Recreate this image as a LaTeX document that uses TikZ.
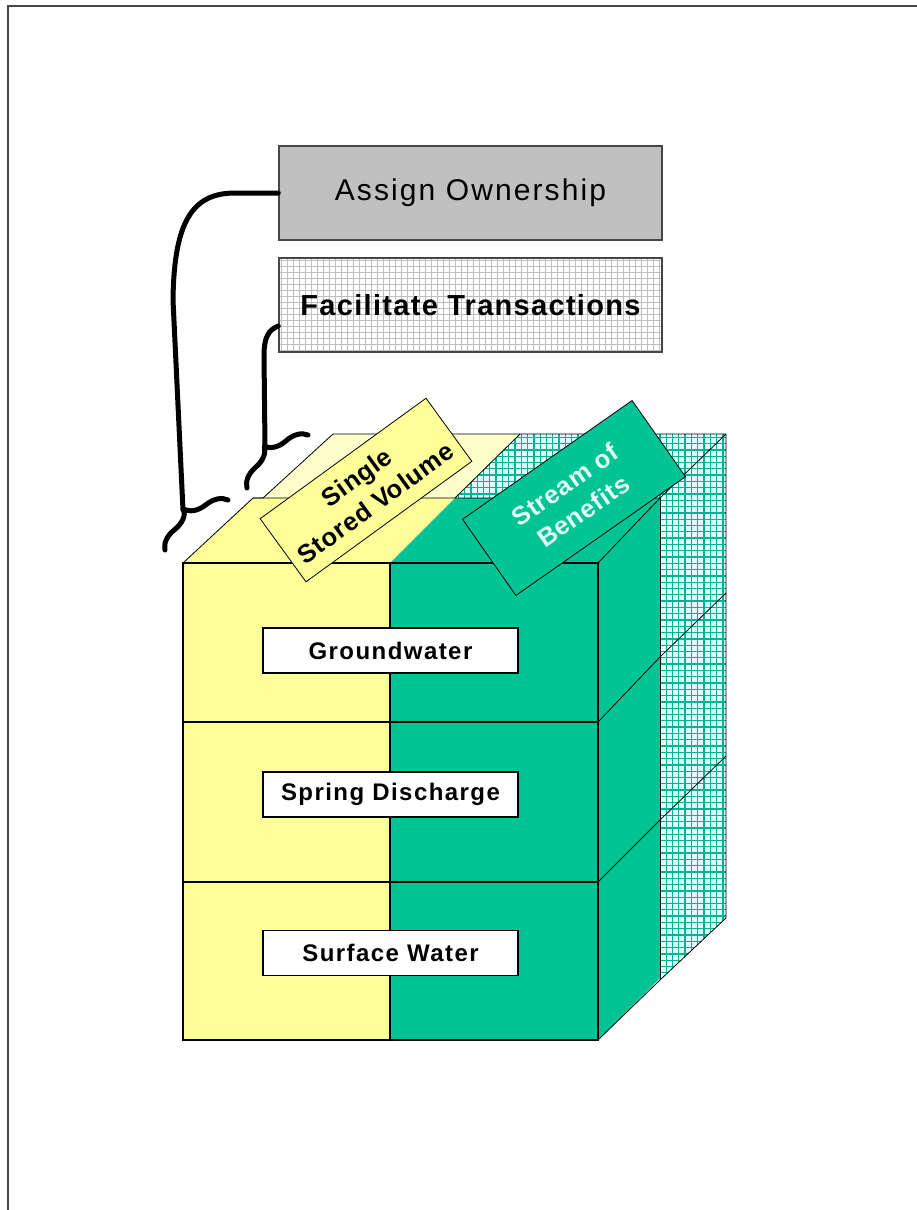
\documentclass[tikz,border=0pt]{standalone}
\usepackage{fontspec}
\setmainfont{Liberation Sans}
\newfontfamily\labelfont[LetterSpace=6]{Liberation Sans}
\newfontfamily\tagfont[LetterSpace=3]{Liberation Sans}
\newfontfamily\titlefont[LetterSpace=7]{Liberation Sans}
\newfontfamily\headfont[LetterSpace=4.5]{Liberation Sans}
\usetikzlibrary{calc,decorations.pathreplacing}

\definecolor{lemon}{RGB}{255,255,153}
\definecolor{paleLemon}{RGB}{255,255,204}
\definecolor{seaGreen}{RGB}{0,196,148}
\definecolor{hatchBack}{RGB}{222,255,255}
\definecolor{hatchLine}{RGB}{0,178,148}
\definecolor{mint}{RGB}{225,255,248}
\definecolor{boxGray}{RGB}{192,192,192}
\definecolor{gridGray}{RGB}{190,190,190}
\definecolor{frameGray}{RGB}{70,70,70}

\begin{document}
\begin{tikzpicture}[x=1pt,y=-1pt,
  thinedge/.style={draw=black,line width=0.8pt},
  divider/.style={draw=black,line width=2.6pt},
  headbox/.style={draw=frameGray,line width=1.4pt,minimum width=383pt,minimum height=94pt},
  layerbox/.style={draw=black,fill=white,line width=1.2pt,minimum width=255pt,minimum height=45pt,
    font=\labelfont\fontsize{24}{26}\selectfont\bfseries},
  tag/.style={draw=black,line width=0.8pt,align=center,inner sep=2pt,
    font=\tagfont\fontsize{25.5}{29}\selectfont\bfseries},
  connector/.style={draw=black,line width=5pt,line cap=round,line join=round},
  bracket/.style={connector,decorate,decoration={brace,amplitude=20pt}}]
\useasboundingbox (0,0) rectangle (917,1210);

% page frame
\draw[frameGray,line width=2pt] (8,1210) -- (8,6) -- (917,6);

% ---- rear slab ----
\fill[paleLemon] (263,498) -- (455,498) -- (520,434) -- (333,434) -- cycle;
\begin{scope}
  \clip (455,498) -- (520,434) -- (726,434) -- (726,918) -- (660,980) -- (660,498) -- cycle;
  \fill[hatchBack] (450,430) rectangle (730,985);
  \foreach \gx in {452,458.3,...,730} \draw[hatchLine,line width=1.3pt] (\gx,430) -- (\gx,985);
  \foreach \gy in {431,437.3,...,985} \draw[hatchLine,line width=1.3pt] (450,\gy) -- (730,\gy);
\end{scope}

% ---- front slab ----
\fill[lemon] (183,563) -- (390,563) -- (455,498) -- (253,498) -- cycle;
\fill[seaGreen] (390,563) -- (598,563) -- (660,498) -- (455,498) -- cycle;
\fill[seaGreen] (598,563) -- (660,498) -- (660,978) -- (598,1040) -- cycle;
\fill[lemon] (183,563) rectangle (390,1040);
\fill[seaGreen] (390,563) rectangle (598,1040);

% edges
\draw[thinedge] (183,563) -- (253,498) -- (263,498) -- (333,434) -- (726,434) -- (726,918) -- (660,980) -- (598,1040);
\draw[thinedge] (253,498) -- (660,498) -- (726,434);
\draw[thinedge] (455,498) -- (520,434);
\draw[thinedge] (660,498) -- (660,980);
\draw[thinedge] (598,563) -- (660,498);
\draw[thinedge] (598,722) -- (660,657) -- (726,593);
\draw[thinedge] (598,882) -- (660,820) -- (726,756);
\draw[black,line width=1.3pt] (183,563) rectangle (598,1040);
\draw[divider] (390,563) -- (390,1040);
\draw[divider] (183,722) -- (598,722);
\draw[divider] (183,882) -- (598,882);

% tilted tags on top
\node[tag,fill=lemon,rotate=36,minimum width=205pt,minimum height=78pt] (ssv) at (366,490) {Single\\[3pt]Stored Volume};
\node[tag,fill=seaGreen,text=mint,rotate=35,minimum width=207pt,minimum height=93pt] (sob) at (574,498) {Stream of\\[3pt]Benefits};

% layer labels
\node[layerbox] (gw) at (390.5,650.5) {Groundwater};
\node[layerbox] (sd) at (390.5,794.5) {Spring Discharge};
\node[layerbox] (sw) at (390.5,953) {Surface Water};

% heading boxes
\node[headbox,fill=boxGray,font=\titlefont\fontsize{30}{32}\selectfont] (as) at (470.5,193) {Assign Ownership};
\node[headbox,fill=white] (fac) at (470.5,305) {};
\begin{scope}
  \clip (279,258) rectangle (662,352);
  \foreach \gx in {281,287,...,662} \draw[gridGray,line width=0.8pt] (\gx,258) -- (\gx,352);
  \foreach \gy in {260,266,...,352} \draw[gridGray,line width=0.8pt] (279,\gy) -- (662,\gy);
\end{scope}
\node[headbox,font=\headfont\fontsize{29}{31}\selectfont\bfseries] (fact) at (470.5,305) {Facilitate Transactions};

% brackets and their leads
\coordinate (b1a) at (165,550);
\coordinate (b1b) at (228,500);
\coordinate (b1t) at (183,510);
\coordinate (b2a) at (247,488);
\coordinate (b2b) at (308,435);
\coordinate (b2t) at (265,446);
\draw[bracket] (b1a) -- (b1b);
\draw[bracket] (b2a) -- (b2b);
\draw[connector] (as.west) -- (235,193) .. controls (192,193) and (174,222) .. (173,300) -- (b1t);
\coordinate (f2) at ($(fact.west)+(0,21)$);
\draw[connector] (f2) .. controls (268,330) and (264,338) .. (264,356) -- (b2t);
\end{tikzpicture}
\end{document}
